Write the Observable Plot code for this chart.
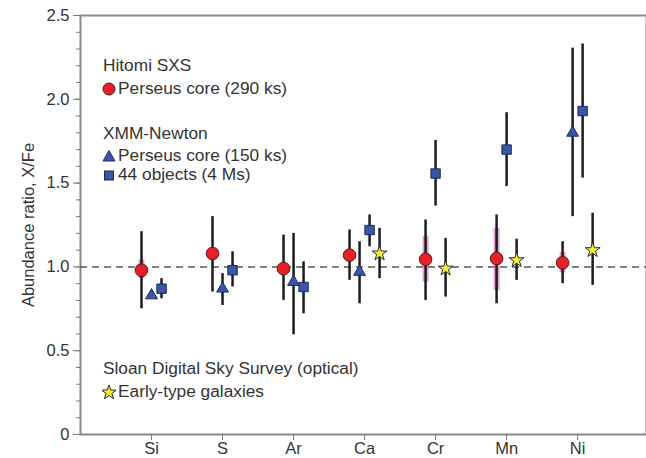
<!DOCTYPE html>
<html>
<head>
<meta charset="utf-8">
<script src="https://cdn.jsdelivr.net/npm/d3@7"></script>
<script src="https://cdn.jsdelivr.net/npm/@observablehq/plot@0.6"></script>
<style>
  body { margin: 0; background: #fff; }
  #wrap { position: relative; width: 646px; height: 458px; font-family: "Liberation Sans", Arial, sans-serif; color: #333; }
  .lg { position: absolute; font-size: 17.3px; line-height: 20px; white-space: nowrap; color: #333; }
  .lg svg { vertical-align: -2px; margin-right: 2px; }
</style>
</head>
<body>
<div id="wrap"></div>
<script>
const elements = ["Si", "S", "Ar", "Ca", "Cr", "Mn", "Ni"];

// Hitomi SXS, Perseus core (290 ks)
const hitomi      = [0.98, 1.08, 0.99, 1.07, 1.045, 1.05, 1.025];
const hitomiLo    = [0.75, 0.85, 0.80, 0.92, 0.80, 0.78, 0.90];
const hitomiHi    = [1.21, 1.30, 1.19, 1.22, 1.28, 1.31, 1.15];
const hitomiSysLo = [0.93, null, null, null, 0.91, 0.86, 0.965];
const hitomiSysHi = [1.04, null, null, null, 1.18, 1.23, 1.085];

// XMM-Newton, Perseus core (150 ks)
const xmmCore   = [0.83, 0.87, 0.91, 0.97, null, null, 1.80];
const xmmCoreLo = [null, 0.77, 0.595, 0.78, null, null, 1.30];
const xmmCoreHi = [null, 0.96, 1.20, 1.15, null, null, 2.305];

// XMM-Newton, 44 objects (4 Ms)
const xmm44   = [0.87, 0.98, 0.88, 1.22, 1.557, 1.70, 1.93];
const xmm44Lo = [0.81, 0.88, 0.72, 1.12, 1.363, 1.48, 1.53];
const xmm44Hi = [0.93, 1.09, 1.03, 1.31, 1.754, 1.92, 2.33];

// SDSS, early-type galaxies
const sdss   = [null, null, null, 1.08, 0.99, 1.04, 1.10];
const sdssLo = [null, null, null, 0.93, 0.82, 0.92, 0.89];
const sdssHi = [null, null, null, 1.23, 1.17, 1.165, 1.32];

const yTicks = [0, 0.5, 1.0, 1.5, 2.0, 2.5];
const yTickLabels = ["0", "0.5", "1.0", "1.5", "2.0", "2.5"];

const series = [
  {key: "hitomi", v: hitomi, lo: hitomiLo, hi: hitomiHi},
  {key: "xmmCore", v: xmmCore, lo: xmmCoreLo, hi: xmmCoreHi},
  {key: "xmm44", v: xmm44, lo: xmm44Lo, hi: xmm44Hi},
  {key: "sdss", v: sdss, lo: sdssLo, hi: sdssHi}
];

const spacing = 0.141;
const rows = [];
elements.forEach((el, i) => {
  const present = series.filter(s => s.v[i] != null);
  present.forEach((s, k) => {
    rows.push({
      key: s.key, el, i,
      x: i + (k - (present.length - 1) / 2) * spacing,
      v: s.v[i], lo: s.lo[i], hi: s.hi[i],
      sysLo: s.key === "hitomi" ? hitomiSysLo[i] : null,
      sysHi: s.key === "hitomi" ? hitomiSysHi[i] : null
    });
  });
});

const of = k => rows.filter(r => r.key === k);
const ink = "#1c1c1c";

const chart = Plot.plot({
  width: 646,
  height: 458,
  marginLeft: 80,
  marginRight: 0,
  marginTop: 15,
  marginBottom: 24,
  style: {fontFamily: "Liberation Sans, Arial, sans-serif", fontSize: "16px", color: "#333", background: "#fff"},
  x: {domain: [-1, 6.97]},
  y: {domain: [0, 2.5]},
  marks: [
    Plot.frame({stroke: "#8a8a8a", strokeWidth: 2}),
    Plot.axisY(d3.range(0, 26).map(d => d / 10), {tickSize: 4, tickFormat: () => "", label: null, stroke: "#777"}),
    Plot.axisY(yTicks, {tickSize: 7, tickPadding: 4, tickFormat: (d, j) => yTickLabels[j], fontSize: 16.5, stroke: "#777",
      label: "Abundance ratio, X/Fe", labelAnchor: "center", labelArrow: "none", labelOffset: 58}),
    Plot.axisX(d3.range(elements.length), {tickSize: 6, tickPadding: 2, tickFormat: i => elements[i], fontSize: 16.5, stroke: "#777", label: null}),
    Plot.ruleY([1], {stroke: "#555", strokeWidth: 1.5, strokeDasharray: "7,5"}),
    Plot.ruleX(rows.filter(r => r.sysLo != null), {x: "x", y1: "sysLo", y2: "sysHi", stroke: "#cc5fae", strokeOpacity: 0.6, strokeWidth: 6}),
    Plot.ruleX(rows.filter(r => r.lo != null), {x: "x", y1: "lo", y2: "hi", stroke: ink, strokeWidth: 2.5}),
    Plot.dot(of("hitomi"), {x: "x", y: "v", r: 6.3, fill: "#e8202a", stroke: "#5a1515", strokeWidth: 1}),
    Plot.dot(of("xmmCore"), {x: "x", y: "v", symbol: "triangle", r: 4.4, fill: "#3a56a6", stroke: "#1d2a5c", strokeWidth: 1}),
    Plot.dot(of("xmm44"), {x: "x", y: "v", symbol: "square", r: 5.3, fill: "#3a56a6", stroke: "#1d2a5c", strokeWidth: 1}),
    Plot.dot(of("sdss"), {x: "x", y: "v", symbol: "star", r: 4.7, fill: "#f3ee3a", stroke: "#2a2a2a", strokeWidth: 1})
  ]
});

const wrap = document.getElementById("wrap");
wrap.appendChild(chart);

function sym(kind) {
  let shape = "";
  if (kind === "circle") shape = '<circle cx="7" cy="7" r="6" fill="#e8202a" stroke="#5a1515" stroke-width="1"/>';
  if (kind === "triangle") shape = '<path d="M7,1.5 L13,12 L1,12 Z" fill="#3a56a6" stroke="#1d2a5c" stroke-width="1"/>';
  if (kind === "square") shape = '<rect x="2.5" y="3" width="9" height="9" fill="#3a56a6" stroke="#1d2a5c" stroke-width="1"/>';
  if (kind === "star") shape = '<path d="' + d3.symbol(d3.symbolStar, 70)() + '" transform="translate(7,7.5)" fill="#f3ee3a" stroke="#2a2a2a" stroke-width="1"/>';
  return '<svg width="14" height="14" viewBox="0 0 14 14">' + shape + '</svg>';
}

const legend = [
  {top: 55, left: 103, html: "Hitomi SXS"},
  {top: 78, left: 102, html: sym("circle") + "Perseus core (290 ks)"},
  {top: 123, left: 103, html: "XMM-Newton"},
  {top: 145, left: 102, html: sym("triangle") + "Perseus core (150 ks)"},
  {top: 164, left: 102, html: sym("square") + "44 objects (4 Ms)"},
  {top: 358, left: 103, html: "Sloan Digital Sky Survey (optical)"},
  {top: 381, left: 102, html: sym("star") + "Early-type galaxies"}
];
legend.forEach(l => {
  const d = document.createElement("div");
  d.className = "lg";
  d.style.top = l.top + "px";
  d.style.left = l.left + "px";
  d.innerHTML = l.html;
  wrap.appendChild(d);
});
</script>
</body>
</html>
